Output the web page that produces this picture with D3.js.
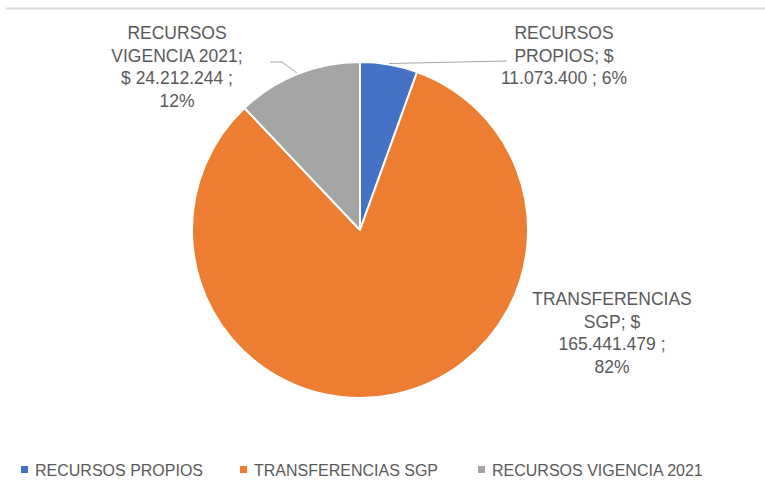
<!DOCTYPE html>
<html><head><meta charset="utf-8">
<script src="https://cdn.jsdelivr.net/npm/d3@7"></script>
<style>body{margin:0;background:#fff;} text{font-family:'Liberation Sans',Arial,sans-serif;}</style>
</head><body>
<svg id="c" width="765" height="500"></svg>
<script>
const categories = ["RECURSOS PROPIOS", "TRANSFERENCIAS SGP", "RECURSOS VIGENCIA 2021"];
const values = [11073400, 165441479, 24212244];
const valueLabels = ["$ 11.073.400", "$ 165.441.479", "$ 24.212.244"];
const percentLabels = ["6%", "82%", "12%"];
const colors = ["#4472C4", "#ED7D31", "#A5A5A5"];

const svg = d3.select("#c");
const W = 765, H = 500;
svg.append("rect").attr("width", W).attr("height", H).attr("fill", "#fff");
svg.append("line").attr("x1", 6).attr("x2", W).attr("y1", 8.5).attr("y2", 8.5)
  .attr("stroke", "#d9d9d9").attr("stroke-width", 2);

const cx = 360, cy = 230, R = 168;
const pie = d3.pie().sort(null).value(d => d);
const arcs = pie(values);
const arc = d3.arc().innerRadius(0).outerRadius(R);
const g = svg.append("g").attr("transform", `translate(${cx},${cy})`);
g.selectAll("path").data(arcs).join("path")
  .attr("d", arc).attr("fill", (d, i) => colors[i])
  .attr("stroke", "#fff").attr("stroke-width", 2).attr("stroke-linejoin", "round");

// label layout (lines of text, anchor center, first baseline offset from pie center)
const labelLines = [
  ["RECURSOS", "PROPIOS; $", valueLabels[0].replace("$ ", "") + " ; " + percentLabels[0]],
  ["TRANSFERENCIAS", "SGP; $", valueLabels[1].replace("$ ", "") + " ;", percentLabels[1]],
  ["RECURSOS", "VIGENCIA 2021;", valueLabels[2] + " ;", percentLabels[2]]
];
const labelPos = [[204, -191], [252, 75], [-183, -191]];
const lh = 22.7;
labelLines.forEach((lines, i) => {
  const t = svg.append("text").attr("text-anchor", "middle").attr("fill", "#595959")
    .attr("font-size", 17.5);
  lines.forEach((s, j) => {
    t.append("tspan").attr("x", cx + labelPos[i][0]).attr("y", cy + labelPos[i][1] + j * lh).text(s);
  });
});

// leader lines
const lineGen = d3.line();
const a0 = (arcs[0].startAngle + arcs[0].endAngle) / 2;
const e0 = [Math.sin(a0) * R, -Math.cos(a0) * R];
svg.append("path").attr("transform", `translate(${cx},${cy})`)
  .attr("d", lineGen([[e0[0], e0[1] - 1], [147, -169]]))
  .attr("fill", "none").attr("stroke", "#a6a6a6").attr("stroke-width", 1);
const a2 = (arcs[2].startAngle + arcs[2].endAngle) / 2;
const e2 = [Math.sin(a2) * R, -Math.cos(a2) * R];
svg.append("path").attr("transform", `translate(${cx},${cy})`)
  .attr("d", lineGen([[e2[0] - 1, e2[1] - 1], [-78, -168], [-90, -168]]))
  .attr("fill", "none").attr("stroke", "#a6a6a6").attr("stroke-width", 1);

// legend
const legX = [21, 240, 478];
const lg = svg.append("g");
categories.forEach((c, i) => {
  lg.append("rect").attr("x", legX[i]).attr("y", 466).attr("width", 7).attr("height", 7).attr("fill", colors[i]);
  lg.append("text").attr("x", legX[i] + 14).attr("y", 476).attr("fill", "#595959")
    .attr("font-size", 16).text(c);
});
</script>
</body></html>
